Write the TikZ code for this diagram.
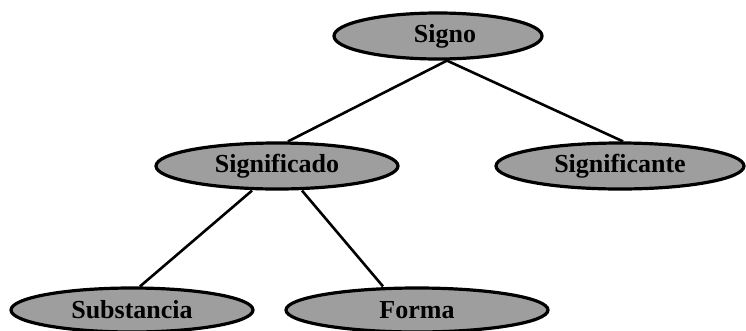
\documentclass[tikz,border=0pt]{standalone}
\usepackage{fontspec}
\setmainfont{Liberation Serif}
\usetikzlibrary{shapes.geometric}
\tikzset{
  oval/.style={ellipse, draw=black, line width=3.2pt, fill=black!38,
    inner sep=0pt, font=\fontsize{26}{28}\selectfont\bfseries, text=black},
  link/.style={line width=2.6pt, draw=black}
}
\begin{document}
\begin{tikzpicture}[x=1pt,y=-1pt]
\useasboundingbox (0,0) rectangle (746,330);
\node[oval, minimum width=208pt, minimum height=46pt] (signo) at (438,36) {\hspace*{14pt}Signo};
\node[oval, minimum width=242pt, minimum height=46pt] (sdo) at (277,166) {Significado};
\node[oval, minimum width=248pt, minimum height=46pt] (ste) at (620,166) {Significante};
\node[oval, minimum width=242pt, minimum height=44pt] (sub) at (132,310) {Substancia};
\node[oval, minimum width=262pt, minimum height=44pt] (forma) at (417,310) {Forma};
\draw[link] ([xshift=9pt]signo.south) -- ([xshift=11pt]sdo.north);
\draw[link] ([xshift=9pt]signo.south) -- ([xshift=3pt]ste.north);
\draw[link] ([xshift=-25pt]sdo.south) -- ([xshift=8pt]sub.north);
\draw[link] ([xshift=25pt]sdo.south) -- ([xshift=-34pt]forma.north);
\end{tikzpicture}
\end{document}
